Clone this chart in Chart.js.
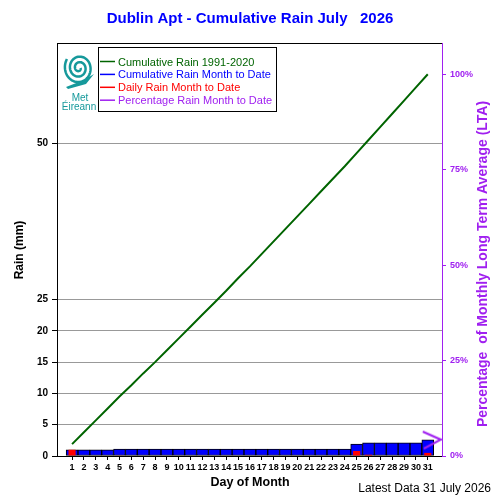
<!DOCTYPE html>
<html>
<head>
<meta charset="utf-8">
<script src="https://cdn.jsdelivr.net/npm/chart.js@4.4.1/dist/chart.umd.min.js"></script>
<style>
  html, body { margin: 0; padding: 0; background: #fff; }
  #wrap { width: 500px; height: 500px; }
</style>
</head>
<body>
<div id="wrap"><canvas id="rainChart" width="500" height="500"></canvas></div>
<script>
// data
const days = [1,2,3,4,5,6,7,8,9,10,11,12,13,14,15,16,17,18,19,20,21,22,23,24,25,26,27,28,29,30,31];
const ltaCumulative = [1.9,3.8,5.7,7.6,9.5,11.3,13.2,15.0,16.9,18.8,20.7,22.6,24.5,26.4,28.4,30.3,32.3,34.3,36.3,38.3,40.3,42.3,44.3,46.3,48.4,50.5,52.6,54.7,56.8,58.9,61.0];
const monthCumulative = [1.0,1.0,1.0,1.0,1.1,1.1,1.1,1.1,1.1,1.1,1.1,1.1,1.1,1.1,1.1,1.1,1.1,1.1,1.1,1.1,1.1,1.1,1.1,1.1,1.9,2.1,2.1,2.1,2.1,2.1,2.6];
const dailyRain = [1.0,0,0,0,0.1,0,0,0,0,0,0,0,0,0,0,0,0,0,0,0,0,0,0,0,0.8,0.2,0,0,0,0,0.5];
const pctDays = [31];
const pctValues = [4.3];
const rainTicks = [0,5,10,15,20,25,50];
const pctTicks = [0,25,50,75,100];

const PURPLE = '#a020f0';
const TEAL = '#16999b';
const FONT = '"Liberation Sans", Arial, sans-serif';
Chart.defaults.font.family = FONT;

const rainMax = 66;
const pctMax = rainMax / ltaCumulative[ltaCumulative.length - 1] * 100;

// arrow marker for the percentage series
const arrow = document.createElement('canvas');
arrow.width = 28; arrow.height = 22;
(function () {
    const c = arrow.getContext('2d');
    c.strokeStyle = PURPLE;
    c.lineWidth = 2;
    c.beginPath();
    c.moveTo(9, 3); c.lineTo(27, 11); c.lineTo(10, 20);
    c.stroke();
})();

const legendItems = [
    ['Cumulative Rain 1991-2020', '#006400'],
    ['Cumulative Rain Month to Date', '#0000ff'],
    ['Daily Rain Month to Date', '#ff0000'],
    ['Percentage Rain Month to Date', PURPLE]
];

const extras = {
    id: 'extras',
    afterDraw(chart) {
        const ctx = chart.ctx;
        const a = chart.chartArea;
        ctx.save();
        // top frame line
        ctx.strokeStyle = '#000';
        ctx.lineWidth = 1;
        ctx.beginPath();
        ctx.moveTo(a.left, a.top + 0.5);
        ctx.lineTo(a.right, a.top + 0.5);
        ctx.stroke();

        // legend box
        ctx.fillStyle = '#fff';
        ctx.fillRect(98, 47, 179, 65);
        ctx.strokeRect(98.5, 47.5, 178, 64);
        ctx.font = '11px ' + FONT;
        ctx.textBaseline = 'middle';
        ctx.textAlign = 'left';
        ctx.lineWidth = 1.5;
        legendItems.forEach((it, i) => {
            const y = 61.5 + i * 12.9;
            ctx.strokeStyle = it[1];
            ctx.beginPath();
            ctx.moveTo(100, y);
            ctx.lineTo(115, y);
            ctx.stroke();
            ctx.fillStyle = it[1];
            ctx.fillText(it[0], 118, y + 1);
        });

        // logo
        ctx.strokeStyle = TEAL;
        ctx.lineWidth = 2.5;
        ctx.beginPath();
        for (let t = 0; t <= 5.2 * Math.PI; t += 0.1) {
            const r = 1.5 + t * 0.8;
            const x = 79 + r * Math.cos(t);
            const y = 68 + r * Math.sin(t) * 1.1;
            if (t === 0) ctx.moveTo(x, y); else ctx.lineTo(x, y);
        }
        ctx.stroke();
        ctx.fillStyle = TEAL;
        ctx.beginPath();
        ctx.moveTo(66, 87); ctx.lineTo(84, 80); ctx.lineTo(94, 74); ctx.lineTo(86, 84); ctx.lineTo(68, 89);
        ctx.closePath();
        ctx.fill();
        ctx.font = '10px ' + FONT;
        ctx.textAlign = 'center';
        ctx.fillText('Met', 80, 98);
        ctx.fillText('Éireann', 79, 107);

        // axis titles
        ctx.fillStyle = '#000';
        ctx.font = 'bold 12px ' + FONT;
        ctx.save();
        ctx.translate(20, 250);
        ctx.rotate(-Math.PI / 2);
        ctx.fillText('Rain (mm)', 0, 0);
        ctx.restore();

        ctx.fillStyle = PURPLE;
        ctx.font = 'bold 14px ' + FONT;
        ctx.save();
        ctx.translate(483, 264);
        ctx.rotate(-Math.PI / 2);
        ctx.fillText('Percentage  of Monthly Long Term Average (LTA)', 0, 0);
        ctx.restore();

        ctx.fillStyle = '#000';
        ctx.font = 'bold 12.5px ' + FONT;
        ctx.fillText('Day of Month', 250, 483);

        ctx.font = '12px ' + FONT;
        ctx.textAlign = 'right';
        ctx.fillText('Latest Data 31 July 2026', 491, 489);
        ctx.restore();
    }
};

new Chart(document.getElementById('rainChart'), {
    type: 'bar',
    data: {
        datasets: [
            {
                type: 'line',
                label: 'Cumulative Rain 1991-2020',
                data: days.map((d, i) => ({ x: d, y: ltaCumulative[i] })),
                borderColor: '#006400',
                borderWidth: 2,
                pointRadius: 0,
                yAxisID: 'y',
                order: 0
            },
            {
                label: 'Cumulative Rain Month to Date',
                data: days.map((d, i) => ({ x: d, y: monthCumulative[i] })),
                backgroundColor: '#0000ff',
                borderColor: '#000',
                borderWidth: 1,
                borderSkipped: false,
                barPercentage: 1,
                categoryPercentage: 1,
                grouped: false,
                yAxisID: 'y',
                order: 3
            },
            {
                label: 'Daily Rain Month to Date',
                data: days.map((d, i) => ({ x: d, y: dailyRain[i] })),
                backgroundColor: '#ff0000',
                borderWidth: 0,
                barPercentage: 0.6,
                categoryPercentage: 1,
                grouped: false,
                yAxisID: 'y',
                order: 2
            },
            {
                type: 'line',
                label: 'Percentage Rain Month to Date',
                data: pctDays.map((d, i) => ({ x: d, y: pctValues[i] })),
                showLine: false,
                pointStyle: arrow,
                yAxisID: 'y2',
                order: 1
            }
        ]
    },
    options: {
        responsive: false,
        animation: false,
        layout: { padding: 0 },
        plugins: {
            legend: { display: false },
            tooltip: { enabled: false },
            title: {
                display: true,
                text: 'Dublin Apt - Cumulative Rain July   2026',
                color: '#0000ff',
                font: { size: 15, weight: 'bold' },
                padding: { top: 10, bottom: 15 }
            }
        },
        scales: {
            x: {
                type: 'linear',
                offset: false,
                min: -0.27,
                max: 32.2,
                afterBuildTicks: s => { s.ticks = days.map(v => ({ value: v })); },
                afterFit: s => { s.height = 44; },
                ticks: {
                    autoSkip: false, maxRotation: 0, color: '#000', padding: 2,
                    font: { size: 9, weight: 'bold' }
                },
                grid: { drawOnChartArea: false, offset: false, color: '#000', tickLength: 4 },
                border: { color: '#000' }
            },
            y: {
                position: 'left',
                min: 0,
                max: rainMax,
                afterBuildTicks: s => { s.ticks = rainTicks.map(v => ({ value: v })); },
                afterFit: s => { s.width = 57; },
                ticks: { color: '#000', padding: 4, font: { size: 10, weight: 'bold' } },
                grid: { color: '#999', tickColor: '#000', tickLength: 5 },
                border: { color: '#000' }
            },
            y2: {
                position: 'right',
                min: 0,
                max: pctMax,
                afterBuildTicks: s => { s.ticks = pctTicks.map(v => ({ value: v })); },
                afterFit: s => { s.width = 58; },
                ticks: {
                    color: PURPLE, padding: 4, font: { size: 9, weight: 'bold' },
                    callback: v => v + '%'
                },
                grid: { drawOnChartArea: false, color: PURPLE, tickLength: 4 },
                border: { color: PURPLE }
            }
        }
    },
    plugins: [extras]
});
</script>
</body>
</html>
